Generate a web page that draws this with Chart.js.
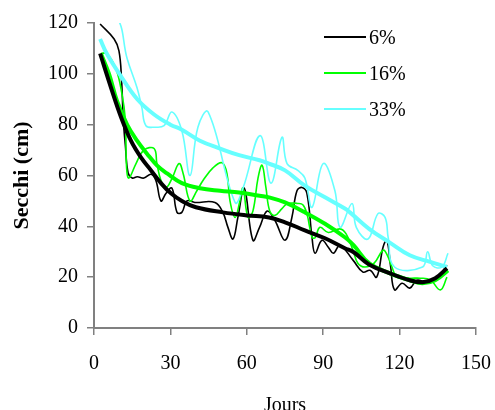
<!DOCTYPE html>
<html>
<head>
<meta charset="utf-8">
<script src="https://cdn.jsdelivr.net/npm/chart.js@4"></script>
<style>
  body { margin: 0; background: #fff; }
  canvas { display: block; }
</style>
</head>
<body>
<canvas id="myChart" width="495" height="410"></canvas>
<script>
// raw Secchi readings (thin lines)
var days6 = [2.4, 7.9, 9.8, 10.8, 11.5, 12.3, 13.4, 15, 17, 19.6, 22.4, 24.3, 26.3, 28.3, 30.6, 32.6, 34.5, 36.5, 39.6, 47.5, 50.6, 52.6, 54.6, 56.5, 59, 62.4, 65, 68, 71, 75, 77.7, 79.7, 81.7, 83.6, 85.6, 86.8, 89.5, 92, 94, 96.6, 101.7, 105.6, 108.4, 111, 113.5, 115, 116.5, 118, 121, 124, 126.8, 130.7, 134.7, 138.6];
var secchi6 = [119.6, 113.7, 109, 98, 82, 72, 61, 59, 59.5, 59, 60.5, 58, 50, 53, 55, 45.5, 45.5, 50, 49.4, 49.4, 45.5, 39.6, 35, 43.5, 55, 34.5, 39.6, 46, 42.4, 34.5, 43.5, 54, 55.3, 53, 35.7, 29.4, 34.5, 31.8, 29.4, 32.5, 26.7, 22, 22.7, 20, 31.8, 34.5, 24, 15, 17.6, 15.7, 18.8, 18, 19.6, 24.7];

var days16 = [2.7, 5, 8.6, 11, 12.3, 12.8, 13.7, 16.5, 19.6, 23.6, 24.7, 26.3, 28.3, 30.6, 33.4, 35, 37.7, 40.4, 42.8, 46.7, 50.3, 52.2, 53.4, 55.4, 57.3, 58.5, 60.5, 62.4, 64.4, 66, 67.5, 69, 71, 73.8, 76, 80, 82, 83.6, 85.6, 86.8, 88.7, 92, 96.6, 99, 101.7, 103.6, 106.4, 110, 113.5, 115, 117, 119, 124, 128, 132, 136, 138.6];
var secchi16 = [108, 108, 102, 92, 82, 63, 59, 64.7, 70, 70.6, 64.7, 58, 55.3, 58.8, 64.7, 60.8, 50, 54, 58, 63, 65, 60.8, 50, 43.5, 50, 55, 43.5, 46, 59, 64, 55.3, 46, 44.3, 47, 49, 49, 48.5, 45, 35.7, 35.5, 39.6, 37.6, 39, 37, 30.6, 25.5, 24, 25.5, 30.6, 29, 24, 20, 19.6, 19.6, 19, 15, 20];

var days33 = [2.4, 9, 13, 16.9, 18.8, 20.4, 24, 27.5, 30.6, 34.5, 37.7, 40.8, 44.8, 55.4, 58.5, 65.2, 69.5, 73.8, 75.8, 80, 82.8, 85.6, 90, 94.6, 96.6, 101.3, 103, 107.6, 111.5, 114.3, 115.5, 118, 129, 131, 133, 136.6, 139];
var secchi33 = [121, 122, 106, 94.5, 86.7, 79.6, 79, 79.6, 85, 77.6, 60, 79, 85, 49.4, 55, 75.7, 57, 75, 64.7, 62, 59, 47.5, 64.7, 54, 39.6, 49, 39.6, 35, 45, 43.5, 35.7, 24, 24, 30, 24.5, 24, 29.4];

// smoothed trends (thick lines)
var trendDays6 = [2.4, 6.7, 10.6, 14.5, 18.5, 22.4, 26.3, 30.2, 34.5, 40, 50.6, 60, 68.7, 75, 82.8, 90.7, 98.5, 102, 108, 116, 124, 129, 134, 138.6];
var trend6 = [108, 94.5, 83, 73.7, 67, 62, 57, 53, 50, 47.5, 45.5, 44.3, 43.5, 41.6, 38.4, 35.3, 31.4, 29.8, 25, 21.6, 18.8, 18, 19.6, 23.5];

var trendDays16 = [2.7, 5.9, 9, 13, 16.9, 20.8, 24.7, 28.7, 34.5, 41.6, 49.5, 57, 65, 68.7, 75, 82.8, 90.7, 98.5, 102, 108, 116, 124, 129, 134, 139];
var trend16 = [108, 100, 89.4, 80, 73.7, 68.6, 64, 60.8, 57, 55, 54, 53.3, 52, 51.4, 49.4, 45.5, 41, 35.7, 32.5, 25.5, 21.6, 18.8, 17.6, 18.8, 22.7];

var trendDays33 = [2.4, 5, 10.6, 17, 23.6, 30, 34.5, 41.6, 49.5, 57, 65, 68.7, 75, 82.8, 90.7, 98.5, 100.5, 108, 116, 124, 132, 138.6];
var trend33 = [113.7, 108, 99, 90, 84, 80, 78, 73.7, 70.6, 68, 66, 64.7, 62, 56, 51.4, 47, 45.5, 39, 33.7, 28.6, 26, 24];

var xTicks = [0, 30, 60, 90, 120, 150];
var yTicks = [0, 20, 40, 60, 80, 100, 120];
var legendLabels = ['6%', '16%', '33%'];
var colors = ['#000000', '#00ff00', '#66ffff'];

function pts(xs, ys) {
    return xs.map(function (x, i) { return { x: x, y: ys[i] }; });
}

function series(xs, ys, color, width) {
    return {
        data: pts(xs, ys),
        borderColor: color,
        borderWidth: width,
        pointRadius: 0,
        tension: 0.4,
        fill: false
    };
}

var serif = 'Liberation Serif, Times New Roman, serif';

var overlay = {
    id: 'overlay',
    afterDraw: function (chart) {
        var c = chart.ctx;
        var area = chart.chartArea;
        c.save();
        // legend
        c.font = '20px ' + serif;
        c.textBaseline = 'middle';
        c.textAlign = 'left';
        legendLabels.forEach(function (lbl, i) {
            var y = 37 + i * 36;
            c.strokeStyle = colors[i];
            c.lineWidth = 2;
            c.beginPath();
            c.moveTo(324, y);
            c.lineTo(366, y);
            c.stroke();
            c.fillStyle = '#000';
            c.fillText(lbl, 369, y + 2);
        });
        // axis titles
        c.textAlign = 'center';
        c.textBaseline = 'alphabetic';
        c.fillText('Jours', (area.left + area.right) / 2, 411);
        c.translate(28, (area.top + area.bottom) / 2);
        c.rotate(-Math.PI / 2);
        c.font = 'bold 22px ' + serif;
        c.fillText('Secchi (cm)', 0, 0);
        c.restore();
    }
};

var ctx = document.getElementById('myChart').getContext('2d');
var myChart = new Chart(ctx, {
    type: 'line',
    data: {
        datasets: [
            series(trendDays6, trend6, colors[0], 4),
            series(trendDays16, trend16, colors[1], 4),
            series(trendDays33, trend33, colors[2], 4),
            series(days33, secchi33, colors[2], 1.6),
            series(days16, secchi16, colors[1], 1.6),
            series(days6, secchi6, colors[0], 1.6)
        ]
    },
    options: {
        responsive: false,
        animation: false,
        devicePixelRatio: 1,
        layout: { padding: { top: 23, right: 19, bottom: 0, left: 0 } },
        plugins: {
            legend: { display: false },
            tooltip: { enabled: false }
        },
        scales: {
            x: {
                type: 'linear',
                min: 0,
                max: 150,
                afterFit: function (s) {
                    s.height = 82;
                    s.paddingLeft = 0;
                    s.paddingRight = 0;
                },
                afterBuildTicks: function (s) { s.ticks = xTicks.map(function (v) { return { value: v }; }); },
                grid: { drawOnChartArea: false, color: '#808080', lineWidth: 1.5, tickLength: 7 },
                border: { color: '#808080', width: 2 },
                ticks: { color: '#000', padding: 17, maxRotation: 0, font: { family: serif, size: 20 } }
            },
            y: {
                min: 0,
                max: 120,
                afterFit: function (s) {
                    s.width = 94;
                    s.paddingTop = 0;
                    s.paddingBottom = 0;
                },
                afterBuildTicks: function (s) { s.ticks = yTicks.map(function (v) { return { value: v }; }); },
                grid: { drawOnChartArea: false, color: '#808080', lineWidth: 1.5, tickLength: 7 },
                border: { color: '#808080', width: 2 },
                ticks: { color: '#000', padding: 9, font: { family: serif, size: 20 } }
            }
        }
    },
    plugins: [overlay]
});
</script>
</body>
</html>
